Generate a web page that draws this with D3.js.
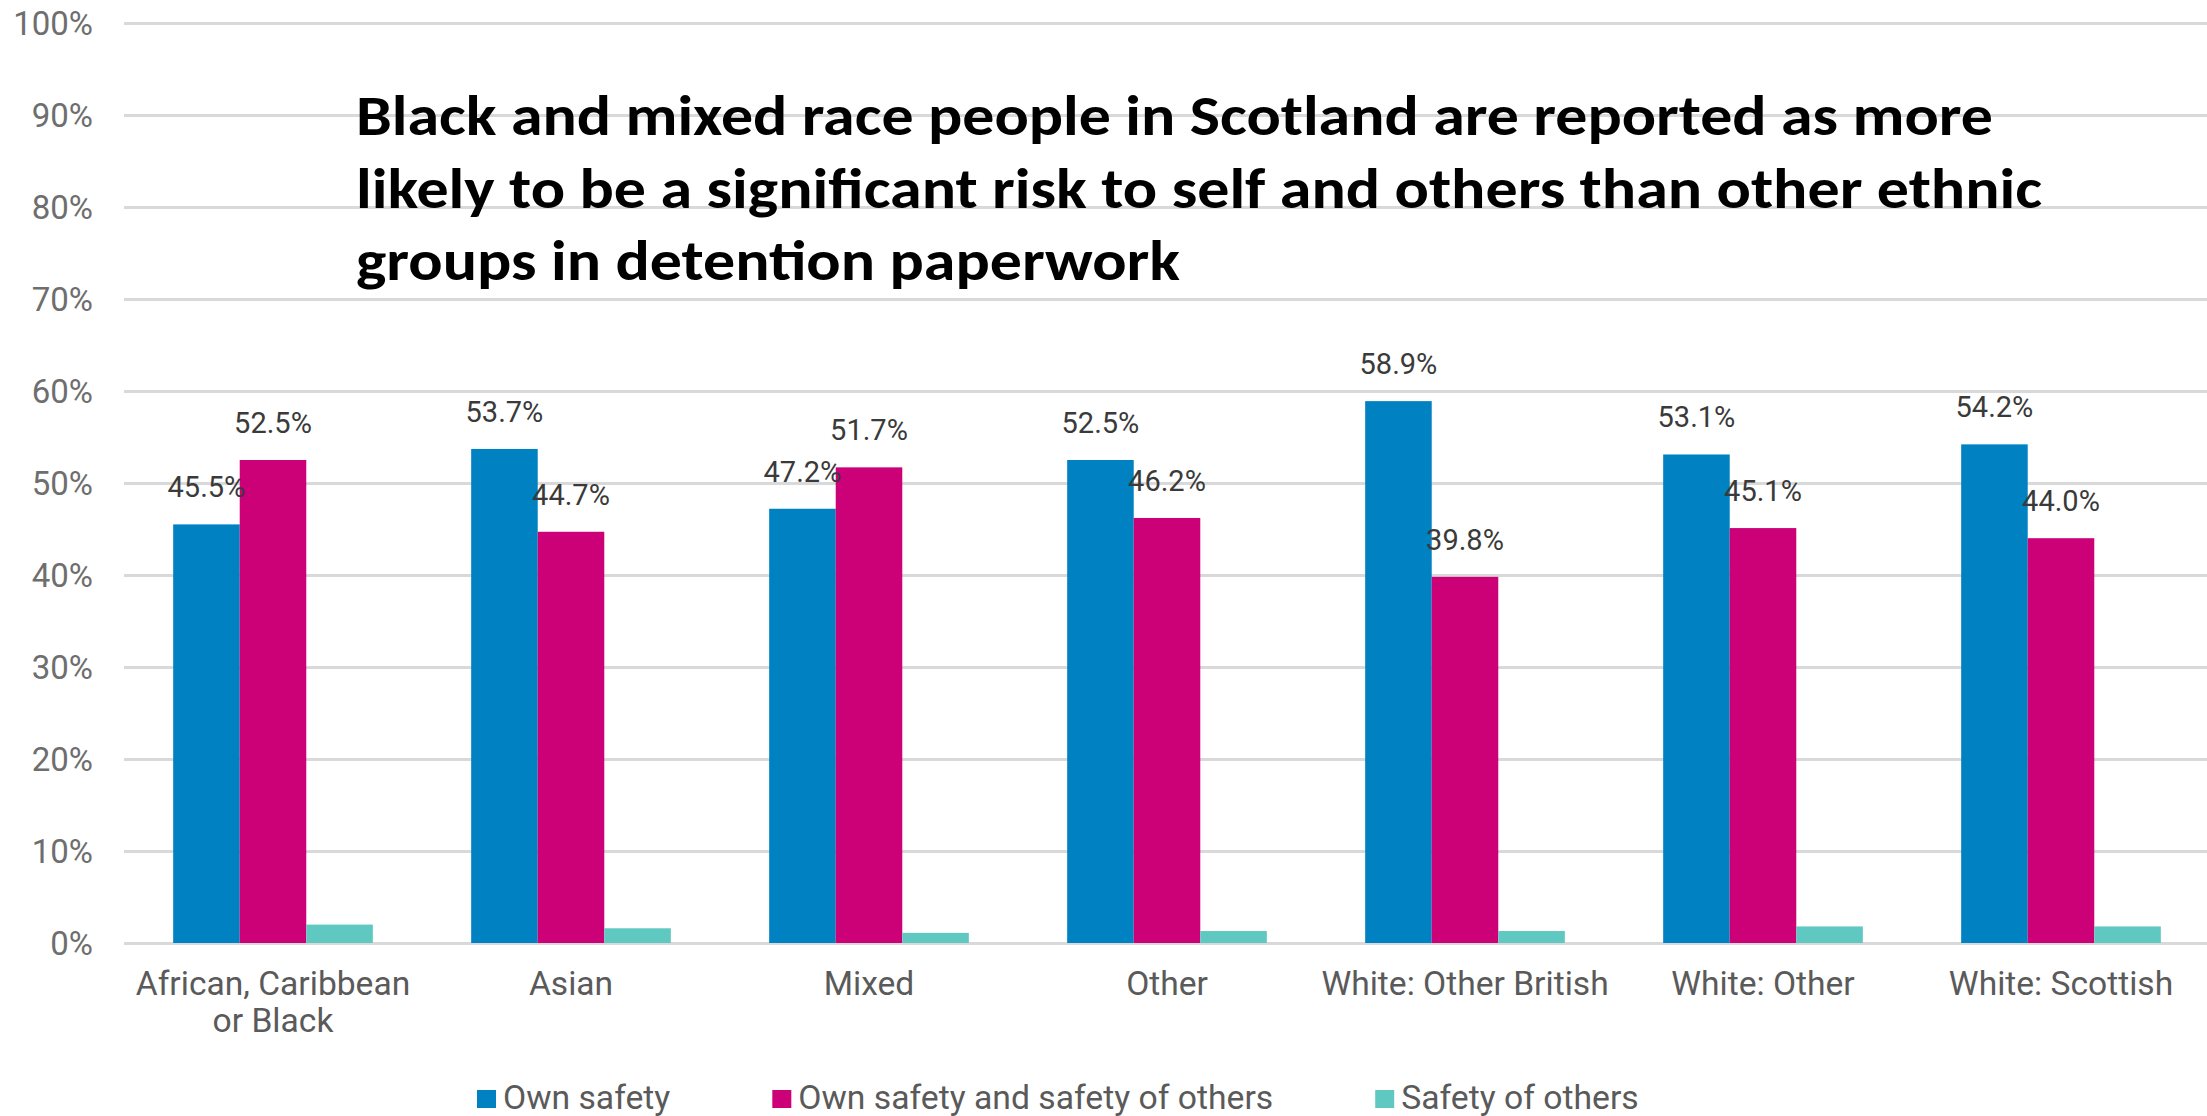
<!DOCTYPE html>
<html>
<head>
<meta charset="utf-8">
<script src="https://cdn.jsdelivr.net/npm/d3@7"></script>
<style>
  html, body { margin: 0; padding: 0; background: #ffffff; }
  svg { display: block; }
</style>
</head>
<body>
<svg id="chart" width="2207" height="1116"></svg>
<script>
// Detention paperwork: stated risk, by ethnic group (percent of detentions)
const categories = [
  "African, Caribbean or Black",
  "Asian",
  "Mixed",
  "Other",
  "White: Other British",
  "White: Other",
  "White: Scottish"
];
const seriesNames = ["Own safety", "Own safety and safety of others", "Safety of others"];
const ownSafety = [45.5, 53.7, 47.2, 52.5, 58.9, 53.1, 54.2];
const ownAndOthersSafety = [52.5, 44.7, 51.7, 46.2, 39.8, 45.1, 44.0];
const othersSafety = [2.0, 1.6, 1.1, 1.3, 1.3, 1.8, 1.8];
const yTicks = [0, 10, 20, 30, 40, 50, 60, 70, 80, 90, 100];
const titleLines = [
  "Black and mixed race people in Scotland are reported as more",
  "likely to be a significant risk to self and others than other ethnic",
  "groups in detention paperwork"
];

const seriesValues = [ownSafety, ownAndOthersSafety, othersSafety];
const seriesColors = ["#0081c2", "#cc0077", "#5fc8c1"];
const labelledSeries = new Set([0, 1]);

const W = 2207, H = 1116;
const plot = { left: 124, right: 2210, top: 23, bottom: 943 };

const svg = d3.select("#chart");
svg.append("rect").attr("width", W).attr("height", H).attr("fill", "#ffffff");

const x0 = d3.scaleBand()
  .domain(categories)
  .range([plot.left, plot.right])
  .paddingInner(0.33)
  .paddingOuter(0.165);

const x1 = d3.scaleBand()
  .domain(d3.range(seriesNames.length))
  .range([0, x0.bandwidth()])
  .padding(0);

const y = d3.scaleLinear().domain([0, 100]).range([plot.bottom, plot.top]);

// y axis with full-width gridlines
const yAxis = d3.axisLeft(y)
  .tickValues(yTicks)
  .tickFormat(d => d + "%")
  .tickSize(-(W - plot.left))
  .tickPadding(31);

const gy = svg.append("g")
  .attr("transform", `translate(${plot.left},0)`)
  .call(yAxis);
gy.select(".domain").remove();
gy.selectAll(".tick line")
  .attr("stroke", "#d9d9d9")
  .attr("stroke-width", 3);
gy.selectAll(".tick text")
  .attr("fill", "#6e6e6e")
  .attr("font-family", "Roboto, 'Noto Sans', sans-serif")
  .attr("font-size", 33)
  .attr("dy", "0.36em");

// title sits over the gridlines
const title = svg.append("g")
  .attr("font-family", "Carlito, Calibri, Lato, sans-serif")
  .attr("font-weight", 700)
  .attr("font-size", 57)
  .attr("fill", "#000000");
const titleBaselines = [135, 208, 280];
const titleWidths = [1637, 1686, 824];
titleLines.forEach((t, i) => {
  title.append("text")
    .attr("x", 356)
    .attr("y", titleBaselines[i])
    .attr("textLength", titleWidths[i])
    .attr("lengthAdjust", "spacingAndGlyphs")
    .text(t);
});

// bars
const groups = svg.append("g")
  .selectAll("g")
  .data(categories)
  .join("g")
  .attr("transform", d => `translate(${x0(d)},0)`);

groups.selectAll("rect")
  .data((c, ci) => seriesValues.map((vals, si) => ({ si, v: vals[ci] })))
  .join("rect")
  .attr("x", d => x1(d.si))
  .attr("y", d => y(d.v))
  .attr("width", x1.bandwidth())
  .attr("height", d => y(0) - y(d.v))
  .attr("fill", d => seriesColors[d.si]);

// value labels
const fmt = d3.format(".1f");
groups.selectAll("text.val")
  .data((c, ci) => seriesValues.map((vals, si) => ({ si, v: vals[ci] })).filter(d => labelledSeries.has(d.si)))
  .join("text")
  .attr("class", "val")
  .attr("x", d => x1(d.si) + x1.bandwidth() / 2)
  .attr("y", d => y(d.v) - 27)
  .attr("text-anchor", "middle")
  .attr("font-family", "Roboto, 'Noto Sans', sans-serif")
  .attr("font-size", 29)
  .attr("fill", "#3a3a3a")
  .text(d => fmt(d.v) + "%");

// category axis
const xAxis = d3.axisBottom(x0).tickSize(0).tickPadding(0);
const gx = svg.append("g")
  .attr("transform", `translate(0,${plot.bottom})`)
  .call(xAxis);
gx.select(".domain").remove();
gx.selectAll(".tick text")
  .attr("fill", "#5a5a5a")
  .attr("font-family", "Roboto, 'Noto Sans', sans-serif")
  .attr("font-size", 33.6)
  .attr("y", 52)
  .attr("dy", null)
  .each(function (d) {
    const text = d3.select(this);
    const words = d.split(" ");
    const maxW = x0.step();
    text.text(null);
    let line = [];
    let tspan = text.append("tspan").attr("x", 0).attr("dy", 0);
    words.forEach(w => {
      line.push(w);
      tspan.text(line.join(" "));
      if (tspan.node().getComputedTextLength() > maxW && line.length > 1) {
        line.pop();
        tspan.text(line.join(" "));
        line = [w];
        tspan = text.append("tspan").attr("x", 0).attr("dy", 37).text(w);
      }
    });
  });

// legend
const legend = svg.append("g")
  .attr("font-family", "Roboto, 'Noto Sans', sans-serif")
  .attr("font-size", 33.7)
  .attr("fill", "#5a5a5a");
let lx = 477;
seriesNames.forEach((name, i) => {
  legend.append("rect")
    .attr("x", lx)
    .attr("y", 1090)
    .attr("width", 19)
    .attr("height", 18)
    .attr("fill", seriesColors[i]);
  const t = legend.append("text")
    .attr("x", lx + 26)
    .attr("y", 1109)
    .text(name);
  lx += 26 + t.node().getComputedTextLength() + 102;
});
</script>
</body>
</html>
